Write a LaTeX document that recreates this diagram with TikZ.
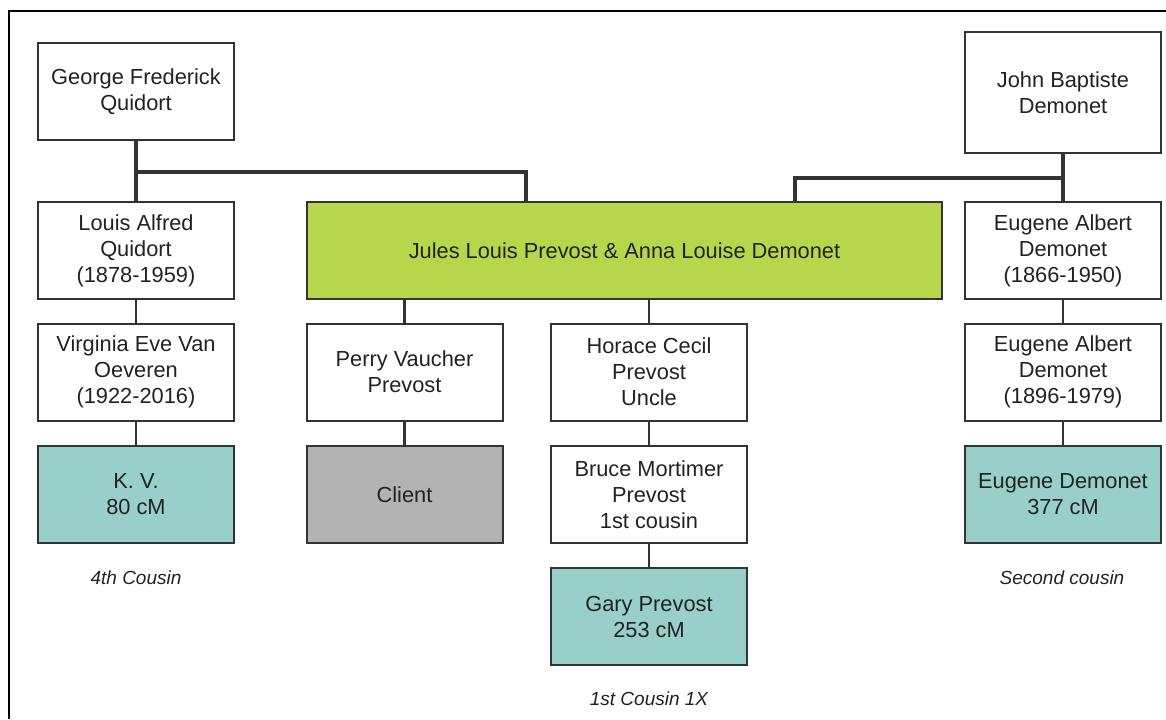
\documentclass[tikz,border=0pt]{standalone}
\usepackage{fontspec}
\setmainfont{Liberation Sans}
\definecolor{couplegreen}{HTML}{B6D64C}
\definecolor{matchteal}{HTML}{98CFC9}
\definecolor{clientgrey}{HTML}{B3B3B3}
\definecolor{inkgrey}{HTML}{222222}
\definecolor{edgegrey}{HTML}{333333}
\begin{document}
\begin{tikzpicture}[x=0.5pt,y=-0.5pt,
  person/.style={draw=edgegrey,line width=1pt,fill=white,text=inkgrey,align=center,
    minimum width=98pt,minimum height=48.5pt,inner sep=0pt,
    font=\fontsize{10.9}{13}\selectfont},
  couple/.style={person,fill=couplegreen,minimum width=317.5pt},
  match/.style={person,fill=matchteal},
  clientbox/.style={person,fill=clientgrey},
  note/.style={text=inkgrey,font=\fontsize{9.5}{11}\selectfont\itshape},
  tie/.style={draw=edgegrey,line width=1.6pt},
  kin/.style={draw=edgegrey,line width=1.1pt},
  line/.style={draw=edgegrey,line width=0.8pt}]
\useasboundingbox (0,0) rectangle (1166,719);
\draw[line width=1.3pt] (9,719) -- (9,11) -- (1166,11);

% top generation
\node[person] (george) at (136,91.5) {George Frederick\\Quidort};
\node[person,minimum height=60.5pt] (john) at (1063,92.5) {John Baptiste\\Demonet};

% second row
\node[person] (louis) at (136,250.5) {Louis Alfred\\Quidort\\(1878-1959)};
\node[couple] (jules) at (624.5,250.5) {Jules Louis Prevost \& Anna Louise Demonet};
\node[person] (eug1) at (1063,250.5) {Eugene Albert\\Demonet\\(1866-1950)};

% third row
\node[person] (virginia) at (136,372) {Virginia Eve Van\\Oeveren\\(1922-2016)};
\node[person] (perry) at (404.5,372) {Perry Vaucher\\Prevost};
\node[person] (horace) at (649,372) {Horace Cecil\\Prevost\\Uncle};
\node[person] (eug2) at (1063,372) {Eugene Albert\\Demonet\\(1896-1979)};

% matches
\node[match] (kv) at (136,494.5) {K. V.\\80 cM};
\node[clientbox] (client) at (404.5,494.5) {Client};
\node[person] (bruce) at (649,494.5) {Bruce Mortimer\\Prevost\\1st cousin};
\node[match] (eugdem) at (1063,494.5) {Eugene Demonet\\377 cM};
\node[match] (gary) at (649,616.5) {Gary Prevost\\253 cM};

\node[note] (kvnote) at (136,578) {4th Cousin};
\node[note] (eugnote) at (1062,578) {Second cousin};
\node[note] (garynote) at (649,699) {1st Cousin 1X};

% family lines
\coordinate (ljoin) at (136,172);
\coordinate (lhook) at (526,202);
\coordinate (rjoin) at (1063,178);
\coordinate (rhook) at (795,202);
\draw[tie] (george) -- (louis);
\draw[tie] (ljoin) -| (lhook);
\draw[tie] (john) -- (eug1);
\draw[tie] (rjoin) -| (rhook);

\draw[kin] (perry) -- (perry |- jules.south);
\draw[kin] (horace) -- (horace |- jules.south);
\draw[kin] (perry) -- (client);

\draw[line] (louis) -- (virginia);
\draw[line] (virginia) -- (kv);
\draw[line] (horace) -- (bruce);
\draw[line] (bruce) -- (gary);
\draw[line] (eug1) -- (eug2);
\draw[line] (eug2) -- (eugdem);
\end{tikzpicture}
\end{document}
